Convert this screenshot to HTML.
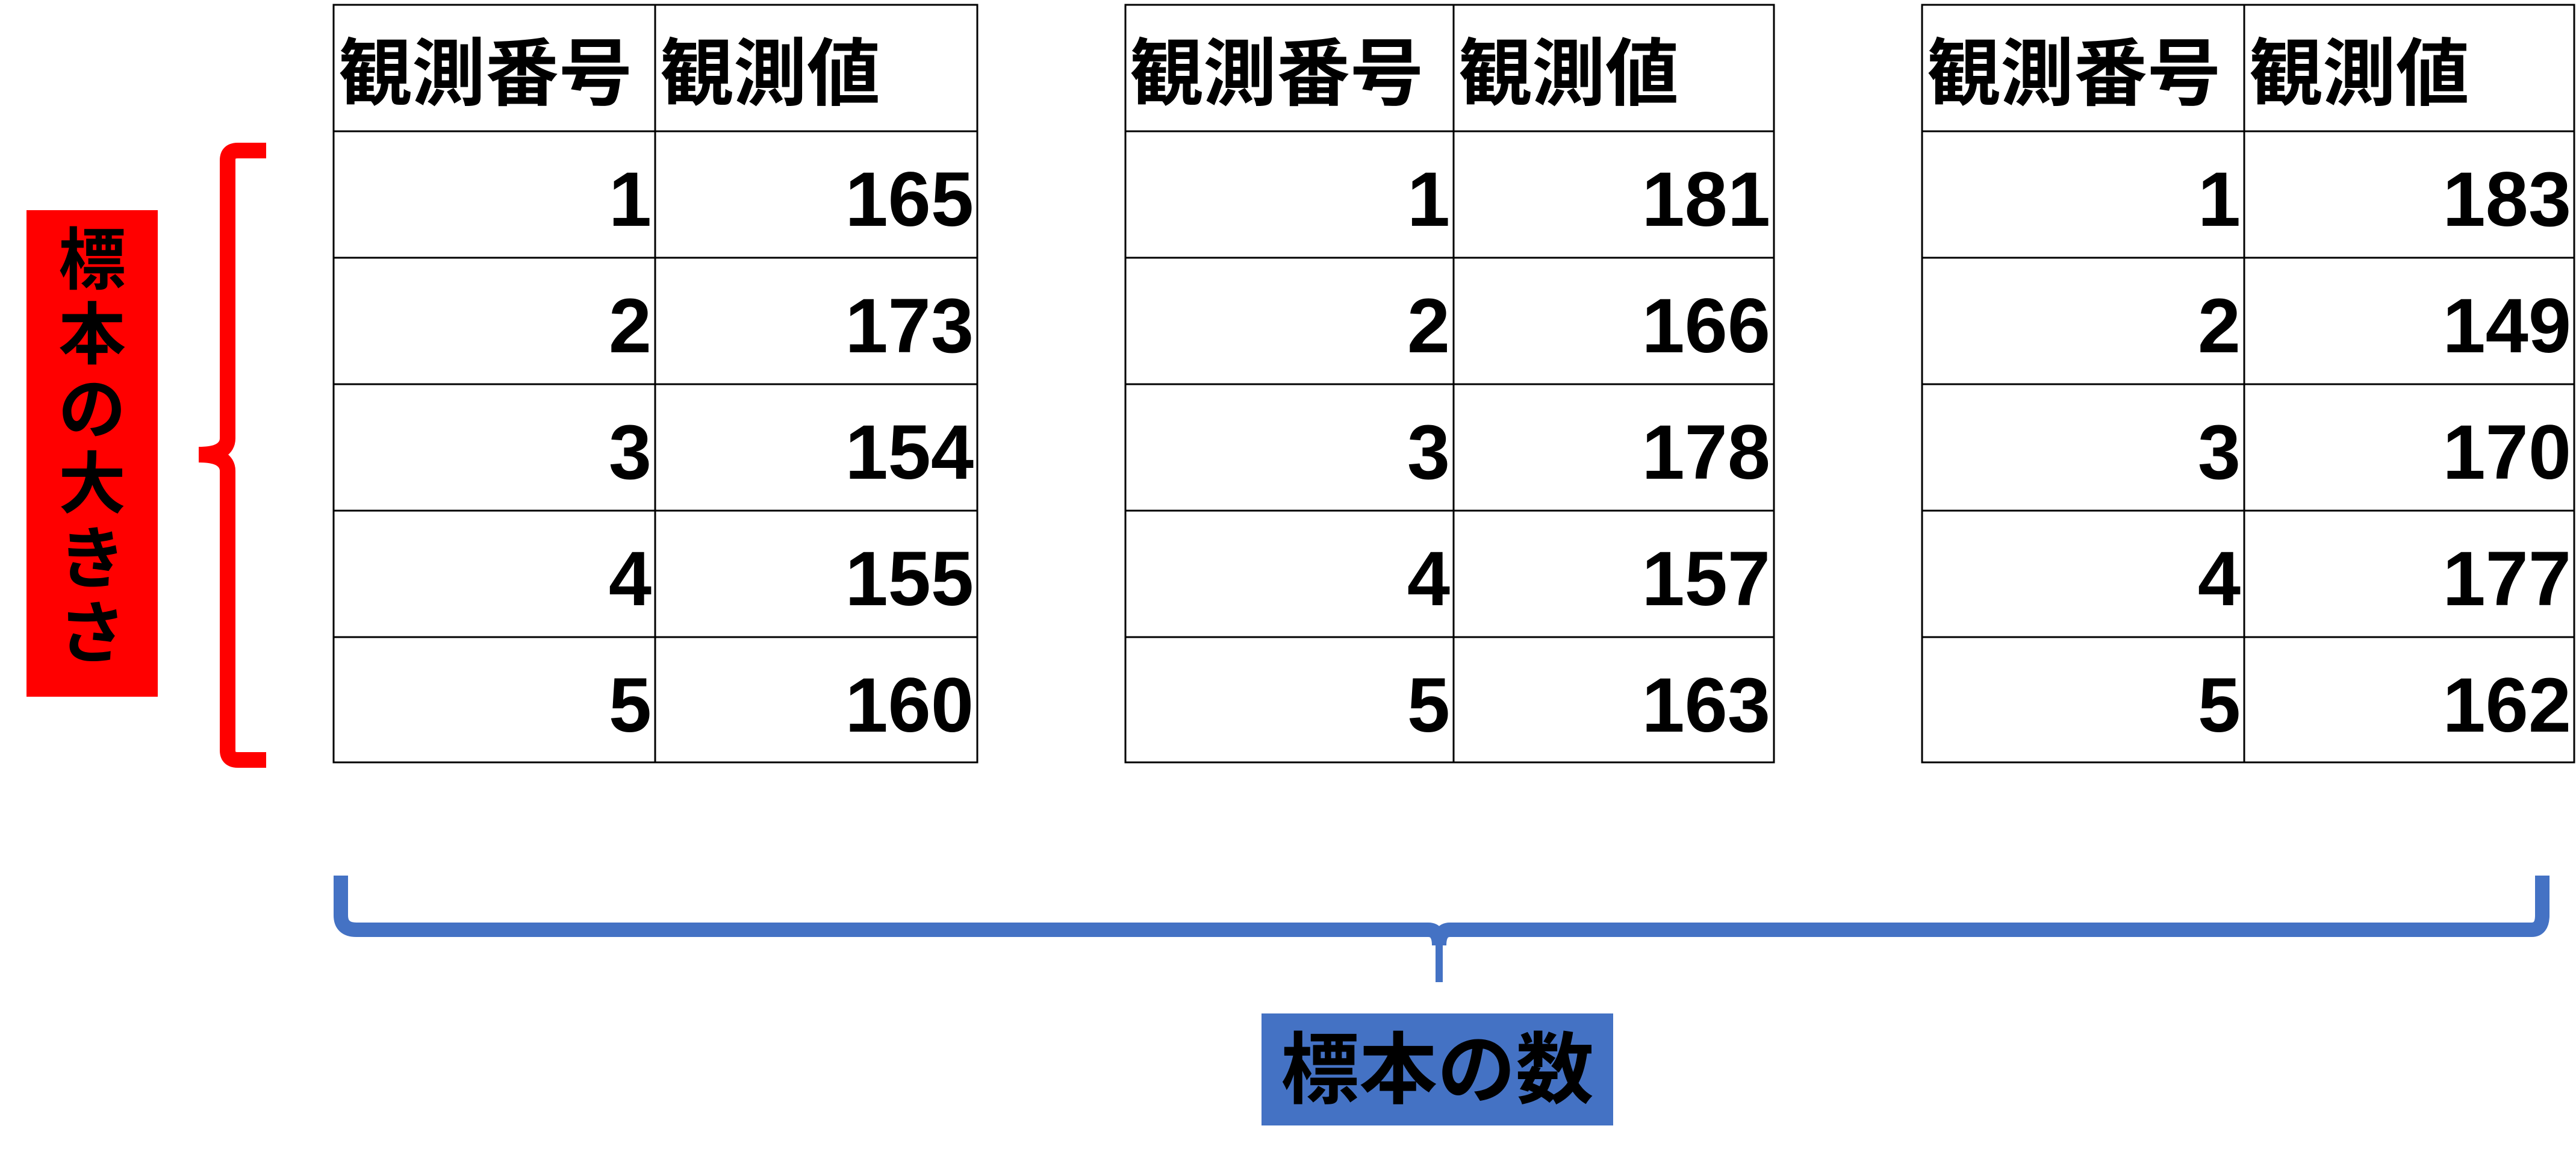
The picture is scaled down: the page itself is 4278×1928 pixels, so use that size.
<!DOCTYPE html>
<html><head><meta charset="utf-8"><style>
html,body{margin:0;padding:0;background:#fff;}
svg{display:block;}
text{font-family:"Liberation Sans","Noto Sans CJK JP",sans-serif;font-weight:bold;fill:#000;}
</style></head><body>
<svg width="4278" height="1928" viewBox="0 0 4278 1928" xmlns="http://www.w3.org/2000/svg">
<rect x="0" y="0" width="4278" height="1928" fill="#fff"/>
<g stroke="#000" stroke-width="3" fill="none">
  <rect x="554" y="8" width="1069" height="1258"/>
  <line x1="1088" y1="8" x2="1088" y2="1266"/>
  <line x1="554" y1="218" x2="1623" y2="218"/>
  <line x1="554" y1="428" x2="1623" y2="428"/>
  <line x1="554" y1="638" x2="1623" y2="638"/>
  <line x1="554" y1="848" x2="1623" y2="848"/>
  <line x1="554" y1="1058" x2="1623" y2="1058"/>
  <rect x="1869" y="8" width="1077" height="1258"/>
  <line x1="2414" y1="8" x2="2414" y2="1266"/>
  <line x1="1869" y1="218" x2="2946" y2="218"/>
  <line x1="1869" y1="428" x2="2946" y2="428"/>
  <line x1="1869" y1="638" x2="2946" y2="638"/>
  <line x1="1869" y1="848" x2="2946" y2="848"/>
  <line x1="1869" y1="1058" x2="2946" y2="1058"/>
  <rect x="3192" y="8" width="1083" height="1258"/>
  <line x1="3727" y1="8" x2="3727" y2="1266"/>
  <line x1="3192" y1="218" x2="4275" y2="218"/>
  <line x1="3192" y1="428" x2="4275" y2="428"/>
  <line x1="3192" y1="638" x2="4275" y2="638"/>
  <line x1="3192" y1="848" x2="4275" y2="848"/>
  <line x1="3192" y1="1058" x2="4275" y2="1058"/>
</g>
<g font-size="122">
  <text x="562" y="165">観測番号</text><text x="1096" y="165">観測値</text>
  <text x="1876" y="165">観測番号</text><text x="2422" y="165">観測値</text>
  <text x="3200" y="165">観測番号</text><text x="3735" y="165">観測値</text>
</g>
<g font-size="128" text-anchor="end">
  <text x="1082" y="375">1</text><text x="1617" y="375">165</text>
  <text x="1082" y="585">2</text><text x="1617" y="585">173</text>
  <text x="1082" y="795">3</text><text x="1617" y="795">154</text>
  <text x="1082" y="1005">4</text><text x="1617" y="1005">155</text>
  <text x="1082" y="1215">5</text><text x="1617" y="1215">160</text>

  <text x="2408" y="375">1</text><text x="2940" y="375">181</text>
  <text x="2408" y="585">2</text><text x="2940" y="585">166</text>
  <text x="2408" y="795">3</text><text x="2940" y="795">178</text>
  <text x="2408" y="1005">4</text><text x="2940" y="1005">157</text>
  <text x="2408" y="1215">5</text><text x="2940" y="1215">163</text>

  <text x="3721" y="375">1</text><text x="4270" y="375">183</text>
  <text x="3721" y="585">2</text><text x="4270" y="585">149</text>
  <text x="3721" y="795">3</text><text x="4270" y="795">170</text>
  <text x="3721" y="1005">4</text><text x="4270" y="1005">177</text>
  <text x="3721" y="1215">5</text><text x="4270" y="1215">162</text>
</g>
<rect x="44" y="349" width="218" height="808" fill="#FF0000"/>
<g font-size="112" text-anchor="middle">
  <text x="153" y="471">標</text>
  <text x="153" y="595">本</text>
  <text x="153" y="719">の</text>
  <text x="153" y="843">大</text>
  <text x="153" y="967">き</text>
  <text x="153" y="1091">さ</text>
</g>
<path d="M442,250 L395,250 Q378,250 378,266 L378,728 Q378,755 330,755 Q378,755 378,782 L378,1246 Q378,1262 395,1262 L442,1262" stroke="#FF0000" stroke-width="26" fill="none"/>
<path d="M566,1454 L566,1520 Q566,1544 592,1544 L2372,1544 Q2390,1544 2390,1570 Q2390,1544 2408,1544 L4204,1544 Q4222,1544 4222,1520 L4222,1454" stroke="#4472C4" stroke-width="24" fill="none"/>
<path d="M2390,1550 L2390,1631" stroke="#4472C4" stroke-width="12" fill="none"/>
<rect x="2095" y="1683" width="584" height="186" fill="#4472C4"/>
<text x="2387" y="1822" font-size="130" text-anchor="middle">標本の数</text>
</svg>
</body></html>
